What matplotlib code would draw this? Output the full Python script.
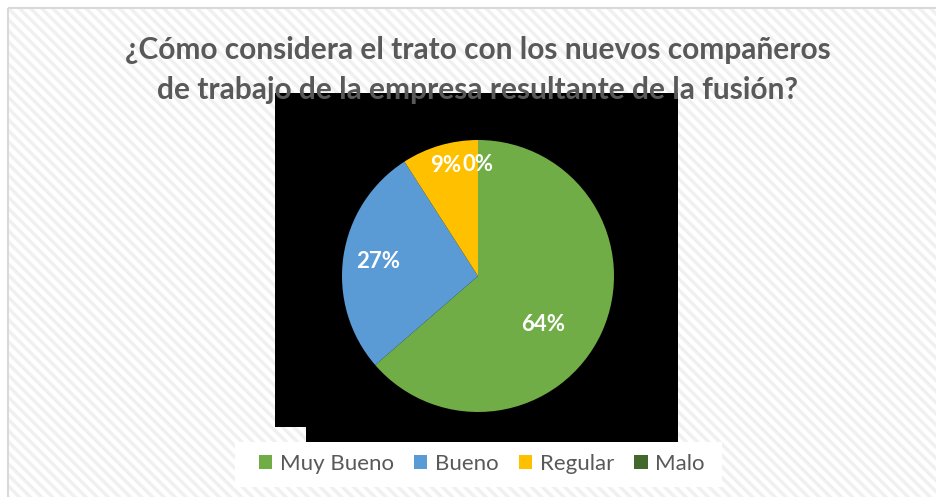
import numpy as np
import matplotlib
matplotlib.use("Agg")
from matplotlib import pyplot as plt
from matplotlib.patches import Rectangle, Patch

# data
categories = ["Muy Bueno", "Bueno", "Regular", "Malo"]
counts = [7, 3, 1, 0]
colors = ["#70AD47", "#5B9BD5", "#FFC000", "#43682B"]
title = "¿Cómo considera el trato con los nuevos compañeros\nde trabajo de la empresa resultante de la fusión?"

W, H = 937, 497
plt.rcParams["font.family"] = ["Lato", "DejaVu Sans"]
plt.rcParams["hatch.color"] = "#F0F0F0"
plt.rcParams["hatch.linewidth"] = 2.5

fig = plt.figure(figsize=(W / 100, H / 100), dpi=100)

# background layer in pixel coordinates
bg = fig.add_axes([0, 0, 1, 1])
bg.set_xlim(0, W)
bg.set_ylim(H, 0)
bg.axis("off")
bg.add_patch(Rectangle((8, 8), W, H, facecolor="white", edgecolor="none", zorder=0))
bg.add_patch(Rectangle((8, 8), W, H, facecolor="none", edgecolor="#F0F0F0",
                       hatch="\\\\\\", linewidth=0, zorder=1))
bg.add_patch(Rectangle((8, 8), W, H, facecolor="none", edgecolor="#D9D9D9",
                       linewidth=1.5, zorder=2))
# the black block behind the pie
bg.add_patch(Rectangle((275, 93), 403, 334, facecolor="black", edgecolor="none", zorder=3))
bg.add_patch(Rectangle((306, 93), 372, 349, facecolor="black", edgecolor="none", zorder=3))
# legend box
bg.add_patch(Rectangle((235, 442), 487, 45, facecolor="white", edgecolor="none", zorder=3))

bg.text(478, 70, title, ha="center", va="center", fontsize=21.5, fontweight="bold",
        color="#595959", linespacing=1.5, zorder=5)

# pie
cx, cy, r = 478, 276, 136
ax = fig.add_axes([(cx - r) / W, (H - cy - r) / H, 2 * r / W, 2 * r / H])
ax.set_zorder(4)
ax.patch.set_visible(False)
wedges, _ = ax.pie(counts, colors=colors, startangle=90, counterclock=False,
                   wedgeprops={"linewidth": 0})
ax.set_xlim(-1, 1)
ax.set_ylim(-1, 1)

total = sum(counts)
label_dist = [0.6, 0.74, 0.85, 0.82]
label_nudge = [-12, 0, 0, 0]
for w, c, d, n in zip(wedges, counts, label_dist, label_nudge):
    ang = np.deg2rad((w.theta1 + w.theta2) / 2 + n)
    ax.text(d * np.cos(ang), d * np.sin(ang), f"{100 * c / total:.0f}%",
            ha="center", va="center", fontsize=16, fontweight="bold", color="white")

handles = [Patch(facecolor=c, edgecolor="none") for c in colors]
fig.legend(handles, categories, loc="center", bbox_to_anchor=(482 / W, 1 - 464 / H),
           ncol=4, frameon=False, fontsize=16, labelcolor="#595959",
           handlelength=0.6, handleheight=0.6, handletextpad=0.35, columnspacing=0.9)

fig.savefig("out.png", dpi=100)
